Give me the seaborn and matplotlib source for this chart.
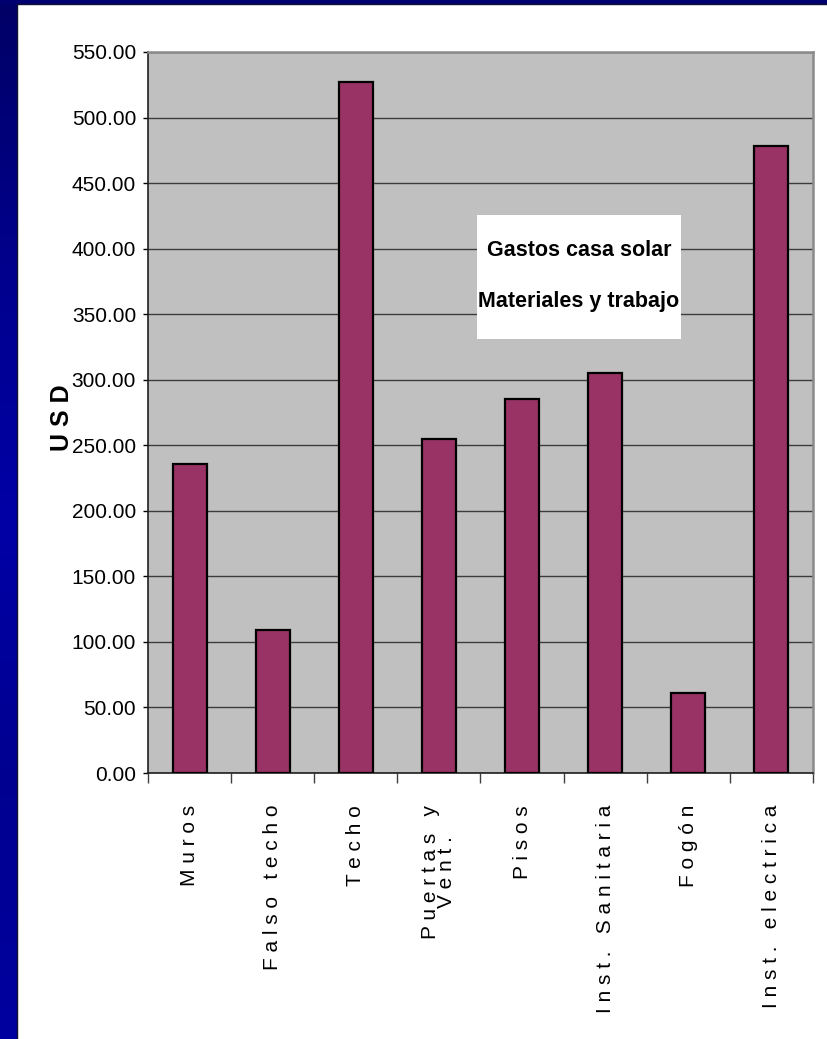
import matplotlib
matplotlib.use("Agg")
import matplotlib.pyplot as plt
import numpy as np
import seaborn as sns
from matplotlib.colors import LinearSegmentedColormap
from matplotlib.lines import Line2D
from matplotlib.patches import Rectangle
from matplotlib.ticker import FixedLocator, FuncFormatter, MultipleLocator

# Gastos casa solar - materiales y trabajo (USD)
CATEGORIES = ["Muros", "Falso techo", "Techo", "Puertas y\nVent.", "Pisos",
              "Inst. Sanitaria", "Fogón", "Inst. electrica"]
COSTS_USD = [236, 109, 527, 255, 285, 305, 61, 478]
Y_MAX = 550
Y_STEP = 50
TITLE_LINES = ["Gastos casa solar", "Materiales y trabajo"]
Y_LABEL = "U S D"

BAR_COLOR = "#993366"
PLOT_BG = "#C0C0C0"
FONTS = ["Liberation Sans", "DejaVu Sans"]

sns.set_style("white")
plt.rcParams["font.family"] = FONTS
plt.rcParams.update({"text.color": "black", "axes.labelcolor": "black",
                     "xtick.color": "black", "ytick.color": "black"})


def spaced(label):
    # the original chart uses wide character spacing on the category names
    return "\n".join(" ".join(line) for line in label.split("\n"))


fig = plt.figure(figsize=(8.27, 10.39), dpi=100)
fig.patch.set_facecolor("white")

# blue slide frame on the left and top
frame_cmap = LinearSegmentedColormap.from_list(
    "frame", ["#000066", "#00008C", "#0000A6", "#000090", "#0000A0"])
left = fig.add_axes([0, 0, 17 / 827, 1])
left.imshow(np.linspace(0, 1, 256).reshape(-1, 1), aspect="auto", cmap=frame_cmap)
left.set_axis_off()
top = fig.add_axes([0, 1 - 4 / 1039, 1, 4 / 1039])
top.set_facecolor("#000070")
top.set_xticks([])
top.set_yticks([])
for s in top.spines.values():
    s.set_visible(False)
fig.add_artist(Line2D([17 / 827, 17 / 827], [0, 1 - 4 / 1039], color="#111133", lw=1))
fig.add_artist(Line2D([17 / 827, 1], [1 - 4 / 1039, 1 - 4 / 1039], color="#111133", lw=1))

ax = fig.add_axes([0.179, 0.256, 0.804, 0.694])
ax.set_facecolor(PLOT_BG)

sns.barplot(x=CATEGORIES, y=COSTS_USD, color=BAR_COLOR, saturation=1,
            width=0.41, edgecolor="black", linewidth=1.6, ax=ax, zorder=3)

ax.set_xlim(-0.5, len(CATEGORIES) - 0.5)
ax.set_ylim(0, Y_MAX)
ax.yaxis.set_major_locator(MultipleLocator(Y_STEP))
ax.yaxis.set_major_formatter(FuncFormatter(lambda v, _: f"{v:.2f}"))
ax.grid(axis="y", color="#3C3C3C", linewidth=1.0, zorder=0)
ax.grid(axis="x", visible=False)
ax.set_axisbelow(True)

ax.set_xticks(range(len(CATEGORIES)))
ax.set_xticklabels([spaced(c) for c in CATEGORIES], rotation=90, va="top",
                   ha="center", fontsize=15, linespacing=0.8)
ax.xaxis.set_minor_locator(FixedLocator(np.arange(-0.5, len(CATEGORIES), 1)))
ax.tick_params(axis="x", which="major", length=0, pad=23, labelcolor="black")
ax.tick_params(axis="x", which="minor", direction="out", length=7.5,
               width=1, color="#404040", bottom=True)
ax.tick_params(axis="y", direction="out", length=3.6, width=1, color="black",
               left=True, pad=5, labelsize=15, labelcolor="black")

for side in ("left", "bottom"):
    ax.spines[side].set_color("#202020")
    ax.spines[side].set_linewidth(1.2)
for side in ("top", "right"):
    ax.spines[side].set_visible(True)
    ax.spines[side].set_color("#8A8A8A")
    ax.spines[side].set_linewidth(1.8)

ax.set_xlabel("")
ax.set_ylabel(Y_LABEL, fontsize=18, fontweight="bold", color="black")
ax.yaxis.set_label_coords(-0.112, 0.493)

# white title box inside the plot area
ax.add_patch(Rectangle((0.495, 0.602), 0.3065, 0.172, transform=ax.transAxes,
                       facecolor="white", edgecolor="none", zorder=4))
for line, ypos in zip(TITLE_LINES, [0.725, 0.654]):
    ax.text(0.648, ypos, line, transform=ax.transAxes, ha="center", va="center",
            fontsize=15.5, fontweight="bold", color="black", zorder=5)

fig.savefig("out.png", dpi=100, facecolor=fig.get_facecolor())
